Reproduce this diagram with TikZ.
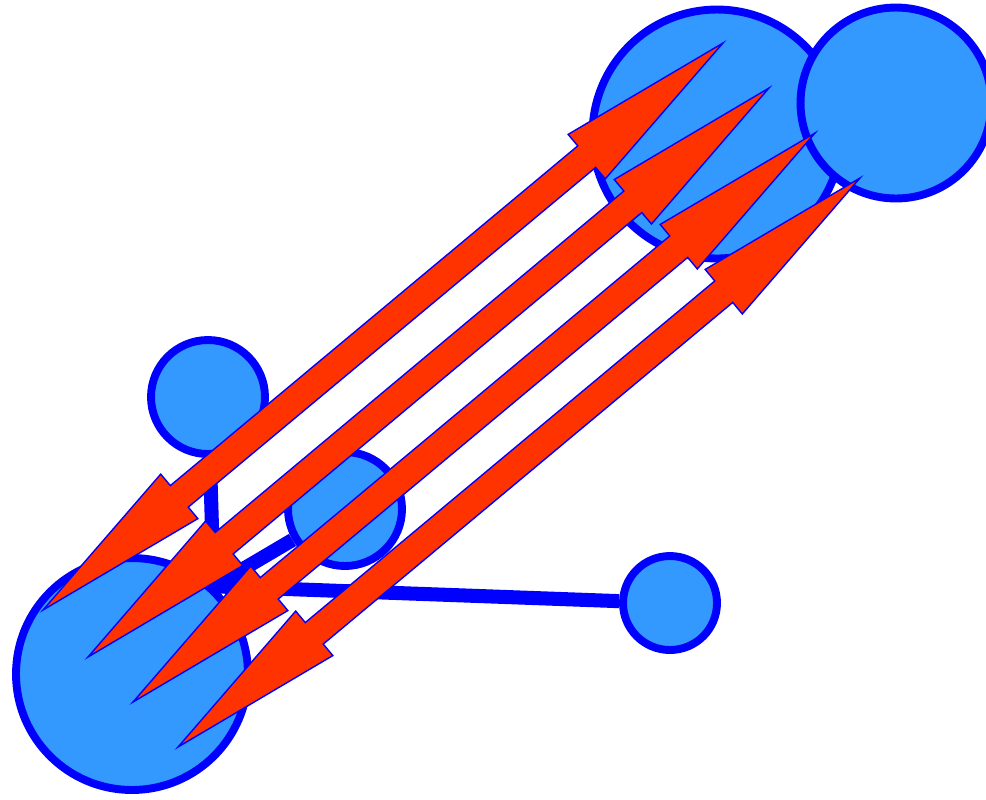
\documentclass[tikz,border=0pt]{standalone}
\usepackage{xcolor}
\usepackage{tikz}
\usetikzlibrary{positioning,calc}

\definecolor{ballblue}{HTML}{3399FF}
\definecolor{arrowred}{HTML}{FF3300}

\begin{document}
\begin{tikzpicture}[
  x=0.02cm, y=-0.02cm,
  ball/.style={circle, draw=blue, fill=ballblue, line width=4.5pt, inner sep=0pt},
  link/.style={draw=blue, line width=8pt},
  fat/.style={draw=blue, fill=arrowred, line width=0.8pt, line join=miter},
]
\useasboundingbox (0,0) rectangle (986,799);

\node[ball, minimum size=4.64cm] (big)    at (132,674) {};
\node[ball, minimum size=4.98cm] (upper)  at (717,134) {};
\node[ball, minimum size=3.82cm] (corner) at (896,103) {};
\node[ball, minimum size=2.28cm] (left)   at (208,397) {};
\node[ball, minimum size=2.28cm] (middle) at (345,509) {};
\node[ball, minimum size=1.88cm] (right)  at (670,603) {};

\coordinate (hub) at (big.47);
\draw[link] (hub) -- (left);
\draw[link] (hub) -- (middle);
\draw[link] (hub) -- (right);

\coordinate (lo1) at (43,610);  \coordinate (hi1) at (723,43);
\coordinate (lo2) at (88,657);  \coordinate (hi2) at (769,88);
\coordinate (lo3) at (133,702); \coordinate (hi3) at (815,133);
\coordinate (lo4) at (178,747); \coordinate (hi4) at (860,178);

\foreach \i in {1,...,4}
  \draw[fat] (lo\i)
    -- ($(lo\i)!3.55cm!(hi\i)!0.58cm!90:(hi\i)$)
    -- ($(lo\i)!3.55cm!(hi\i)!0.28cm!90:(hi\i)$)
    -- ($(hi\i)!3.55cm!(lo\i)!0.28cm!-90:(lo\i)$)
    -- ($(hi\i)!3.55cm!(lo\i)!0.58cm!-90:(lo\i)$)
    -- (hi\i)
    -- ($(hi\i)!3.55cm!(lo\i)!0.58cm!90:(lo\i)$)
    -- ($(hi\i)!3.55cm!(lo\i)!0.28cm!90:(lo\i)$)
    -- ($(lo\i)!3.55cm!(hi\i)!0.28cm!-90:(hi\i)$)
    -- ($(lo\i)!3.55cm!(hi\i)!0.58cm!-90:(hi\i)$)
    -- cycle;
\end{tikzpicture}
\end{document}
